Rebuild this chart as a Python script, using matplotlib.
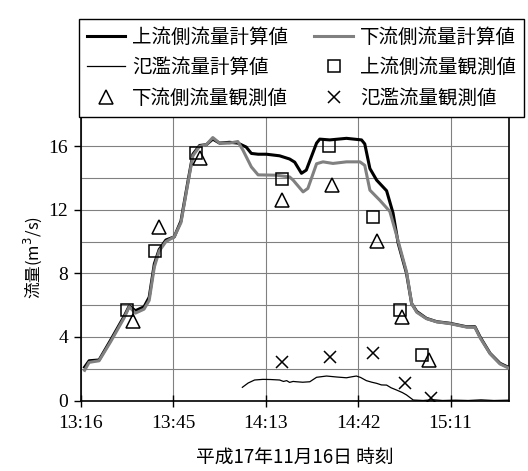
import numpy as np
import matplotlib
matplotlib.use("Agg")
import matplotlib.pyplot as plt
from matplotlib.ticker import FuncFormatter, MultipleLocator

plt.rcParams['font.family'] = ['Noto Sans CJK JP', 'DejaVu Sans']
plt.rcParams['mathtext.fontset'] = 'dejavusans'

# time axis in minutes after midnight (2005-11-16)
t_up = [797.6, 799.0, 802.1, 805.7, 809.9, 811.5, 813.4, 816.1, 817.7, 819.3,
        820.8, 822.9, 825.5, 827.6, 829.6, 831.3, 833.4, 835.5, 837.5, 839.6,
        842.7, 845.3, 847.9, 849.5, 851.6, 854.2, 858.3, 861.4, 863.0, 865.1,
        866.6, 869.8, 870.8, 873.9, 879.1, 883.8, 884.8, 886.4, 888.5, 891.6,
        893.6, 895.2, 897.8, 899.4, 901.0, 904.0, 907.2, 911.3, 916.5, 919.1,
        920.7, 923.8, 926.9, 929.5]
q_up = [2.1, 2.5, 2.55, 3.8, 5.3, 5.95, 5.65, 5.9, 6.5, 8.6,
        9.5, 10.1, 10.3, 11.3, 13.6, 15.5, 16.05, 16.1, 16.45, 16.2,
        16.25, 16.2, 15.95, 15.55, 15.5, 15.5, 15.4, 15.2, 15.0, 14.3,
        14.5, 16.2, 16.45, 16.4, 16.5, 16.4, 16.15, 14.6, 13.87, 13.2,
        11.8, 9.9, 8.0, 6.1, 5.6, 5.17, 4.96, 4.86, 4.64, 4.64,
        4.0, 2.97, 2.34, 2.09]

t_dn = [797.6, 799.0, 802.1, 805.7, 809.9, 811.5, 813.4, 816.1, 817.7, 819.3,
        820.8, 822.9, 825.5, 827.6, 829.6, 831.3, 833.4, 835.5, 837.5, 839.6,
        842.7, 845.3, 846.9, 849.5, 851.6, 857.3, 861.4, 862.5, 865.6, 867.1,
        869.8, 871.8, 874.9, 879.1, 883.3, 884.8, 886.4, 889.5, 892.6, 894.7,
        897.8, 899.4, 901.0, 904.0, 907.2, 911.3, 916.5, 919.1, 920.7, 923.8,
        926.9, 929.5]
q_dn = [1.9, 2.4, 2.5, 3.7, 5.2, 5.9, 5.5, 5.75, 6.3, 8.4,
        9.4, 10.0, 10.3, 11.2, 13.5, 15.4, 16.0, 16.1, 16.55, 16.2,
        16.2, 16.3, 15.75, 14.7, 14.2, 14.18, 14.07, 13.87, 13.13, 13.35,
        14.9, 15.02, 14.92, 15.02, 15.02, 14.8, 13.24, 12.6, 11.9, 10.4,
        8.1, 6.1, 5.55, 5.15, 4.95, 4.84, 4.62, 4.6, 3.95, 2.95,
        2.3, 2.05]

t_ov = [846.7, 848.5, 850.5, 853.1, 855.5, 858.3, 859.5, 860.5, 861.4, 862.5,
        863.5, 865.5, 867.7, 869.8, 872.9, 876.0, 879.1, 881.0, 882.2, 883.5,
        885.3, 887.0, 888.5, 890.0, 891.6, 893.0, 894.7, 896.5, 897.8, 899.9,
        903.0, 906.0, 909.0, 913.0, 917.0, 921.0, 925.0, 929.5]
q_ov = [0.83, 1.1, 1.29, 1.33, 1.32, 1.29, 1.2, 1.25, 1.14, 1.2,
        1.18, 1.15, 1.18, 1.46, 1.54, 1.48, 1.43, 1.5, 1.54, 1.45,
        1.25, 1.15, 1.08, 0.98, 0.97, 0.8, 0.66, 0.5, 0.35, 0.03,
        0.0, 0.05, 0.0, 0.02, 0.0, 0.04, 0.0, 0.02]

# observations
t_up_obs = [810.7, 819.4, 832.4, 858.9, 873.6, 887.4, 895.7, 902.5]
q_up_obs = [5.7, 9.4, 15.6, 13.97, 16.0, 11.55, 5.7, 2.85]
t_dn_obs = [812.6, 820.8, 833.5, 858.9, 874.7, 888.6, 896.3, 904.8]
q_dn_obs = [5.0, 10.95, 15.25, 12.6, 13.55, 10.05, 5.25, 2.55]
t_ov_obs = [858.9, 873.9, 887.4, 897.3, 905.4]
q_ov_obs = [2.44, 2.72, 2.97, 1.12, 0.14]

labels = ['上流側流量計算値', '下流側流量計算値', '氾濫流量計算値',
          '上流側流量観測値', '下流側流量観測値', '氾濫流量観測値']

x_start = 0.553 * 1440   # 13:16
x_step = 0.02 * 1440     # 28.8 min
x_end = 929.7

fig = plt.figure(figsize=(5.28, 4.71), dpi=100)
ax = fig.add_axes([80.5 / 528, 1 - 400.5 / 471, 428.5 / 528, 286 / 471])

gray = '#808080'
l_up, = ax.plot(t_up, q_up, color='black', lw=2.2, zorder=3)
l_dn, = ax.plot(t_dn, q_dn, color=gray, lw=2.2, zorder=4)
l_ov, = ax.plot(t_ov, q_ov, color='black', lw=0.9, zorder=3)
m_up, = ax.plot(t_up_obs, q_up_obs, ls='none', marker='s', ms=8.5,
                mfc='none', mec='black', mew=1.1, zorder=5)
m_dn, = ax.plot(t_dn_obs, q_dn_obs, ls='none', marker='^', ms=10,
                mfc='none', mec='black', mew=1.1, zorder=5)
m_ov, = ax.plot(t_ov_obs, q_ov_obs, ls='none', marker='x', ms=9,
                mec='black', mew=1.1, zorder=5)

ax.set_xlim(x_start, x_end)
ax.set_ylim(0, 18)
ax.set_xticks(np.arange(x_start, x_end, x_step))
ax.xaxis.set_major_formatter(FuncFormatter(
    lambda m, pos: f'{int(m) // 60}:{int(m) % 60:02d}'))
ax.yaxis.set_major_locator(MultipleLocator(4))
ax.yaxis.set_minor_locator(MultipleLocator(2))
ax.set_yticks([0, 4, 8, 12, 16])

ax.grid(True, which='both', color=gray, lw=0.8, zorder=0)
ax.set_axisbelow(True)
ax.tick_params(axis='x', direction='inout', length=9, width=1.0, pad=6)
ax.tick_params(axis='y', direction='out', length=5, width=1.0, pad=4)
ax.tick_params(axis='y', which='minor', length=0)
for lab in ax.get_xticklabels() + ax.get_yticklabels():
    lab.set_fontfamily('Liberation Serif')
    lab.set_fontsize(14)
for sp in ax.spines.values():
    sp.set_color('black')
    sp.set_linewidth(1.2)

ax.set_ylabel('流量(m$^3$/s)', fontsize=12, labelpad=3)
ax.set_xlabel('平成17年11月16日 時刻', fontsize=13.5, labelpad=11)

leg = fig.legend([l_up, l_ov, m_dn, l_dn, m_up, m_ov],
                 [labels[0], labels[2], labels[4], labels[1], labels[3], labels[5]],
                 ncol=2, loc='upper left', bbox_to_anchor=(69 / 528, 1 - 9 / 471),
                 fontsize=14, frameon=True, fancybox=False, framealpha=1,
                 edgecolor='black', handlelength=2.0, handletextpad=0.35,
                 columnspacing=1.35, labelspacing=0.5, borderpad=0.4)
leg.get_frame().set_linewidth(1.0)

fig.savefig('out.png', dpi=100)
